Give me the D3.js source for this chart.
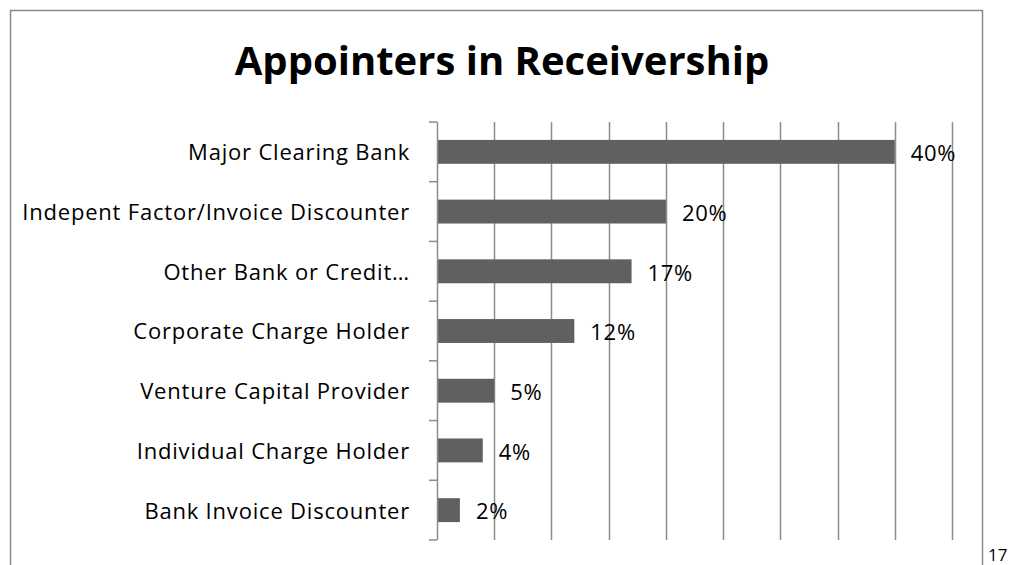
<!DOCTYPE html>
<html>
<head>
<meta charset="utf-8">
<script src="https://cdn.jsdelivr.net/npm/d3@7"></script>
<style>
  body { margin: 0; background: #fff; }
  text { font-family: "Open Sans", "Noto Sans", sans-serif; fill: #000; }
</style>
</head>
<body>
<div id="chart"></div>
<script>
// data
var categories = [
  'Major Clearing Bank',
  'Indepent Factor/Invoice Discounter',
  'Other Bank or Credit…',
  'Corporate Charge Holder',
  'Venture Capital Provider',
  'Individual Charge Holder',
  'Bank Invoice Discounter'
];
var values = [40, 20, 17, 12, 5, 4, 2];
var gridTicks = [0, 5, 10, 15, 20, 25, 30, 35, 40, 45];

var svgWidth = 1009;
var svgHeight = 565;

var svg = d3.select('#chart').append('svg')
  .attr('width', svgWidth)
  .attr('height', svgHeight);

// slide frame
svg.append('path')
  .attr('d', 'M10.5,565 V10.5 H982.5 V565')
  .attr('fill', 'none')
  .attr('stroke', '#8a8a8a')
  .attr('stroke-width', 1.5);

svg.append('text')
  .attr('x', 502)
  .attr('y', 75)
  .attr('text-anchor', 'middle')
  .attr('font-size', '40px')
  .attr('font-weight', 'bold')
  .text('Appointers in Receivership');

// page number
svg.append('text')
  .attr('x', 988)
  .attr('y', 561)
  .attr('font-size', '17px')
  .text('17');

var x = d3.scaleLinear().domain([0, 45]).range([437, 952]);
var y = d3.scaleBand().domain(categories).range([122, 540]).paddingInner(0.6).paddingOuter(0.3);

// vertical gridlines
svg.append('g').selectAll('line')
  .data(gridTicks.slice(1))
  .enter()
  .append('line')
  .attr('x1', d => Math.round(x(d)) + 0.5)
  .attr('x2', d => Math.round(x(d)) + 0.5)
  .attr('y1', 122)
  .attr('y2', 540)
  .attr('stroke', '#8c8c8c')
  .attr('stroke-width', 1.5);

// bars
svg.append('g').selectAll('rect')
  .data(values)
  .enter()
  .append('rect')
  .attr('x', x(0))
  .attr('y', (d, i) => y(categories[i]))
  .attr('width', d => x(d) - x(0))
  .attr('height', y.bandwidth())
  .attr('fill', '#606060');

// category axis with ticks between bands
var axisG = svg.append('g');
axisG.append('line')
  .attr('x1', 437.5).attr('x2', 437.5)
  .attr('y1', 122).attr('y2', 540)
  .attr('stroke', '#8c8c8c').attr('stroke-width', 1.5);
axisG.selectAll('.tk')
  .data(d3.range(categories.length + 1))
  .enter()
  .append('line')
  .attr('x1', 429).attr('x2', 437)
  .attr('y1', i => 122 + i * (418 / categories.length))
  .attr('y2', i => 122 + i * (418 / categories.length))
  .attr('stroke', '#8c8c8c').attr('stroke-width', 1.5);

axisG.selectAll('.lbl')
  .data(categories)
  .enter()
  .append('text')
  .attr('x', 410)
  .attr('y', d => y(d) + y.bandwidth() / 2)
  .attr('dy', '0.38em')
  .attr('text-anchor', 'end')
  .attr('font-size', '22px')
  .attr('letter-spacing', '0.8px')
  .text(d => d);

// value labels
svg.append('g').selectAll('text')
  .data(values)
  .enter()
  .append('text')
  .attr('x', d => x(d) + 16)
  .attr('y', (d, i) => y(categories[i]) + y.bandwidth() / 2)
  .attr('dy', '0.42em')
  .attr('font-size', '22px')
  .attr('letter-spacing', '0.7px')
  .text(d => d + '%');
</script>
</body>
</html>
